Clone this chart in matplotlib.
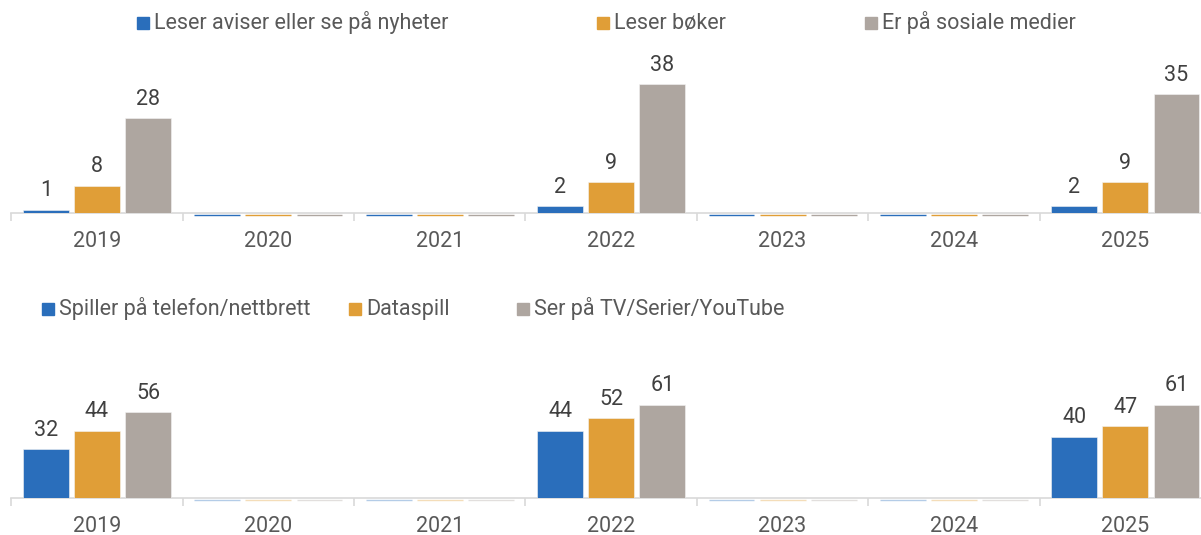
import matplotlib.pyplot as plt
from matplotlib.patches import Rectangle
from matplotlib.ticker import FixedLocator
from matplotlib.transforms import ScaledTranslation

years = ["2019", "2020", "2021", "2022", "2023", "2024", "2025"]

# top panel
news = [1, None, None, 2, None, None, 2]
books = [8, None, None, 9, None, None, 9]
social = [28, None, None, 38, None, None, 35]
topNames = ["Leser aviser eller se på nyheter", "Leser bøker", "Er på sosiale medier"]

# bottom panel
mobile = [32, None, None, 44, None, None, 40]
computer = [44, None, None, 52, None, None, 47]
video = [56, None, None, 61, None, None, 61]
bottomNames = ["Spiller på telefon/nettbrett", "Dataspill", "Ser på TV/Serier/YouTube"]

colors = ["#2a6ebb", "#e09e37", "#aea6a0"]
textColor = "#595959"
labelColor = "#404040"
axisColor = "#d9d9d9"
fontSize = 15.5

plt.rcParams['font.family'] = ['Roboto', 'DejaVu Sans']

W, H = 1201, 535
fig = plt.figure(figsize=(W / 100, H / 100), dpi=100)

groupW = 171.4
x0 = 11.3


def makeAxes(bottomPx, topPx, ymax):
    ax = fig.add_axes([x0 / W, (H - bottomPx) / H, 7 * groupW / W, (bottomPx - topPx) / H])
    ax.set_xlim(-0.5, 6.5)
    ax.set_ylim(0, ymax)
    for s in ["top", "right", "left"]:
        ax.spines[s].set_visible(False)
    ax.spines["bottom"].set_color(axisColor)
    ax.spines["bottom"].set_linewidth(1.2)
    ax.spines["bottom"].set_zorder(2)
    ax.set_yticks([])
    ax.set_xticks(range(len(years)))
    ax.set_xticklabels(years, fontsize=fontSize, color=textColor)
    ax.tick_params(axis="x", which="major", length=0, pad=13)
    ax.xaxis.set_minor_locator(FixedLocator([i - 0.5 for i in range(len(years) + 1)]))
    ax.tick_params(axis="x", which="minor", length=6, width=1.2, color=axisColor)
    return ax


def drawBars(ax, seriesList, stubAlpha):
    offs = [-0.298, 0.0, 0.298]
    width = 0.268
    # empty years get a flat stub drawn just under the baseline
    shiftDown = ax.transData + ScaledTranslation(0, -1.6 / 72, fig.dpi_scale_trans)
    for k, series in enumerate(seriesList):
        for i, v in enumerate(series):
            xpos = i + offs[k]
            if v is None:
                stub = ax.bar(xpos, 0, width, color=colors[k], edgecolor=colors[k],
                              linewidth=1.0, alpha=stubAlpha, zorder=3, clip_on=False)
                for p in stub:
                    p.set_transform(shiftDown)
                continue
            ax.bar(xpos, v, width, color=colors[k], edgecolor="#f4f4f4",
                   linewidth=0.4, zorder=3)
            ax.annotate(str(v), (xpos, v), xytext=(0, 6), textcoords="offset points",
                        ha="center", va="bottom", fontsize=fontSize, color=labelColor)


def drawLegend(names, xs, ypx):
    for k, (name, xp) in enumerate(zip(names, xs)):
        fig.patches.append(Rectangle((xp / W, (H - ypx - 6) / H), 12 / W, 12 / H,
                                     transform=fig.transFigure, color=colors[k]))
        fig.text((xp + 17) / W, (H - ypx) / H, name, fontsize=fontSize, color=textColor,
                 va="center", ha="left")


axTop = makeAxes(213, 50, 48)
drawBars(axTop, [news, books, social], 1.0)
drawLegend(topNames, [137, 597, 865], 23)

axBottom = makeAxes(498, 345, 100)
drawBars(axBottom, [mobile, computer, video], 0.35)
drawLegend(bottomNames, [42, 349, 517], 309)

fig.savefig("out.png", dpi=100)
